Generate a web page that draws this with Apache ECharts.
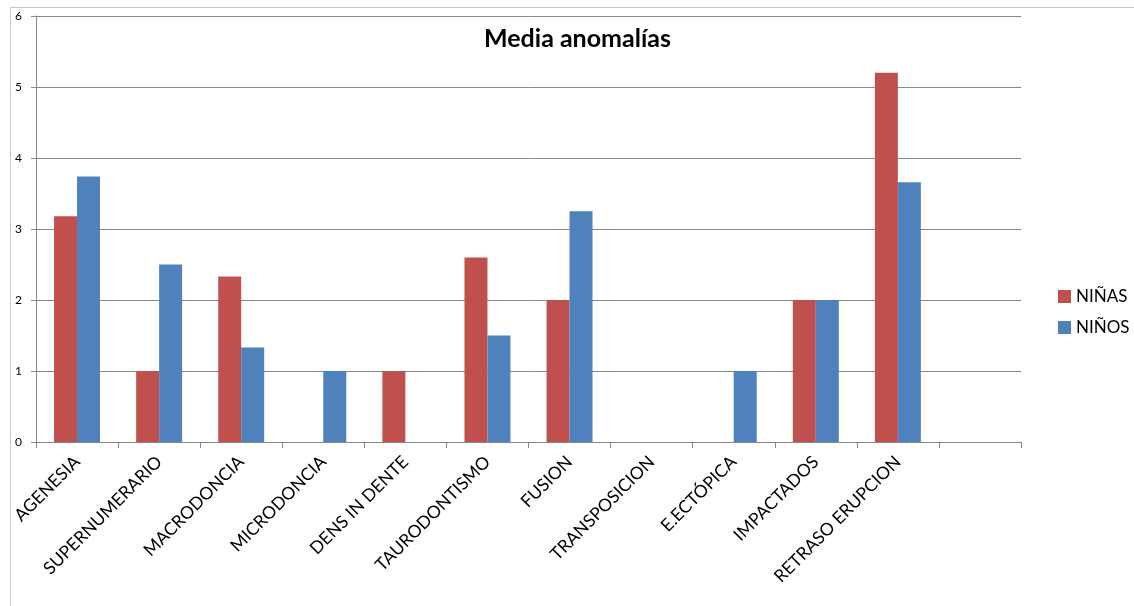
<!DOCTYPE html>
<html>
<head>
<meta charset="utf-8">
<script src="https://cdn.jsdelivr.net/npm/echarts@6/dist/echarts.min.js"></script>
<style>
  html, body { margin: 0; padding: 0; background: #fff; }
  #marco { position: absolute; left: 10px; top: 7px; width: 1124px; height: 599px;
           border-top: 1px solid #c8c8c8; border-left: 1px solid #c8c8c8; }
  #grafico { position: absolute; left: 0; top: 0; width: 1134px; height: 606px; }
</style>
</head>
<body>
<div id="marco"></div>
<div id="grafico"></div>
<script>
// categorias (la ultima va vacia, como en el original)
var categorias = ["AGENESIA", "SUPERNUMERARIO", "MACRODONCIA", "MICRODONCIA", "DENS IN DENTE",
                  "TAURODONTISMO", "FUSION", "TRANSPOSICION", "E.ECTÓPICA", "IMPACTADOS",
                  "RETRASO ERUPCION", ""];
var ninas = [3.18, 1, 2.33, 0, 1, 2.6, 2, 0, 0, 2, 5.2, null];
var ninos = [3.74, 2.5, 1.33, 1, 0, 1.5, 3.25, 0, 1, 2, 3.66, null];
var ticksY = [0, 1, 2, 3, 4, 5, 6];

var fuente = "Lato, 'Open Sans', sans-serif";
var myChart = echarts.init(document.getElementById("grafico"));

myChart.setOption({
    animation: false,
    title: {
        text: "Media anomalías",
        left: 479, top: 21,
        textStyle: { fontFamily: fuente, fontSize: 25, fontWeight: "bold", color: "#000" }
    },
    legend: {
        orient: "vertical",
        left: 1053, top: 283,
        itemWidth: 13, itemHeight: 13, itemGap: 14,
        icon: "rect",
        textStyle: { fontFamily: fuente, fontSize: 17, color: "#000" },
        data: ["NIÑAS", "NIÑOS"]
    },
    grid: { left: 36, right: 113, top: 16, bottom: 164, containLabel: false },
    xAxis: {
        type: "category",
        data: categorias,
        axisLine: { lineStyle: { color: "#878787" } },
        axisTick: { show: true, length: 6, lineStyle: { color: "#878787" } },
        axisLabel: { rotate: 45, interval: 0, margin: 17, color: "#000",
                     fontFamily: fuente, fontSize: 17.5 }
    },
    yAxis: {
        type: "value",
        min: ticksY[0], max: ticksY[ticksY.length - 1], interval: 1,
        axisLine: { show: true, lineStyle: { color: "#878787" } },
        axisTick: { show: true, length: 5, lineStyle: { color: "#878787" } },
        splitLine: { lineStyle: { color: "#878787" } },
        axisLabel: { color: "#000", fontFamily: fuente, fontSize: 12, margin: 14 }
    },
    series: [
        { name: "NIÑAS", type: "bar", data: ninas, barGap: "0%", barCategoryGap: "44%",
          itemStyle: { color: "#C0504D" } },
        { name: "NIÑOS", type: "bar", data: ninos, barGap: "0%", barCategoryGap: "44%",
          itemStyle: { color: "#4F81BD" } }
    ]
});
</script>
</body>
</html>
